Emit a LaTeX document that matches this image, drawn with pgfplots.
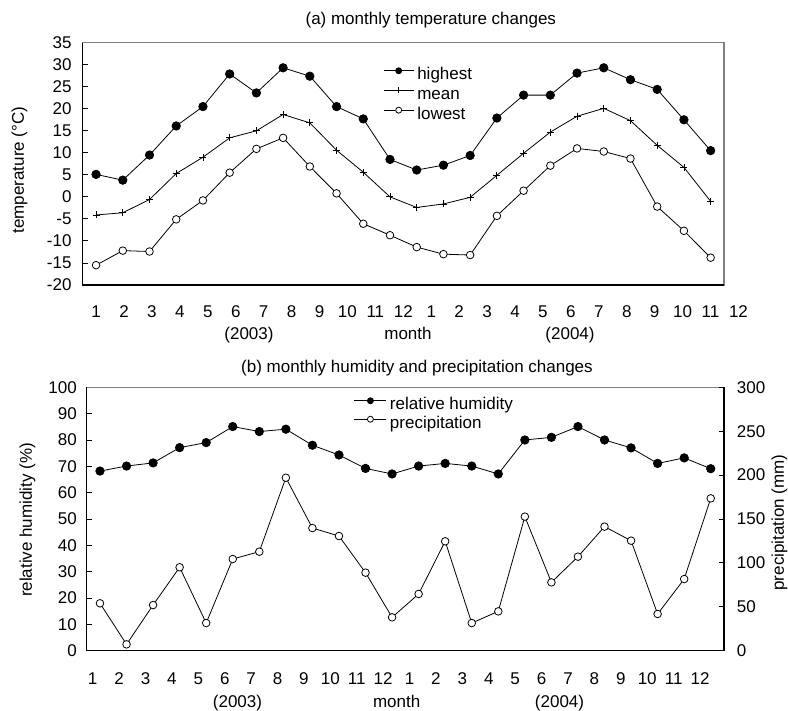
\documentclass[border=0pt]{standalone}
\usepackage{fontspec}
\setmainfont{Liberation Sans}
\usepackage{pgfplots}
\pgfplotsset{compat=1.18}
\usepackage{pgfplotstable}
\definecolor{framegray}{RGB}{128,128,128}

\pgfplotstableread{
m hi mean lo
1 5.1 -4.1 -15.5
2 3.8 -3.6 -12.2
3 9.5 -0.6 -12.4
4 16.1 5.3 -5.1
5 20.5 9.0 -0.8
6 27.9 13.4 5.5
7 23.6 15.0 10.9
8 29.3 18.7 13.4
9 27.4 16.8 6.9
10 20.5 10.6 0.8
11 17.7 5.6 -6.1
12 8.5 0.0 -8.7
13 6.1 -2.4 -11.4
14 7.2 -1.6 -13.0
15 9.4 -0.1 -13.2
16 17.9 4.9 -4.3
17 23.1 9.9 1.4
18 23.1 14.7 7.1
19 28.1 18.3 11.0
20 29.3 20.1 10.3
21 26.6 17.3 8.7
22 24.4 11.7 -2.2
23 17.5 6.7 -7.7
24 10.5 -1.0 -13.8
}\temps

\pgfplotstableread{
m hum pre
1 68.2 54.0
2 70.1 7.2
3 71.3 52.0
4 77.1 95.0
5 79.0 31.5
6 85.1 104.4
7 83.2 112.8
8 84.1 197.0
9 78.0 139.7
10 74.3 130.6
11 69.2 88.9
12 67.1 38.0
13 70.1 64.6
14 71.1 124.6
15 70.1 31.5
16 67.1 44.8
17 80.0 152.7
18 81.0 77.8
19 85.1 107.1
20 80.0 141.3
21 77.0 125.3
22 71.1 41.8
23 73.2 81.6
24 69.1 173.5
}\humid

\pgfplotsset{
  chart/.style={
    scale only axis, clip=false, xmin=0.5, xmax=24.5,
    axis line style={draw=framegray, line width=1.4bp},
    tick style={black, line width=0.9bp},
    major tick length=5bp, minor tick length=5bp, tick align=inside,
    /pgf/number format/assume math mode=true,
    yticklabel style={inner sep=0pt},
    xtick=\empty, minor xtick={1.5,2.5,...,23.5}, xtick pos=lower,
    legend cell align=left,
    legend image post style={mark size=3bp},
  },
  filledc/.style={black, line width=0.8bp, mark=*, mark size=4.2bp, mark options={fill=black, solid}},
  plusm/.style={black, line width=0.8bp, mark=+, mark size=3.5bp, mark options={solid}},
  openc/.style={black, line width=0.8bp, mark=*, mark size=3.8bp, mark options={fill=white, solid}},
}
\newcommand\xlab[3]{\node[anchor=base, inner sep=0pt] at (axis cs:#1,#2) {#3};}

\begin{document}
\fontsize{17bp}{20bp}\selectfont
\begin{tikzpicture}
\path[use as bounding box] (0,0) rectangle (788bp,711bp);

% ---------- (a) temperature ----------
\begin{axis}[chart, at={(82.7bp,426bp)}, anchor=south west,
  width=641.3bp, height=242.3bp,
  ymin=-20, ymax=35, ytick={-20,-15,...,35}, ytick pos=left,
  yticklabel style={xshift=-11bp},
  legend image code/.code={\draw[mark repeat=2, mark phase=2, #1] plot coordinates {(0bp,4.5bp) (15bp,4.5bp) (30bp,4.5bp)};},
  legend style={draw=none, fill=none, at={(0.4684,0.9046)}, anchor=north west,
    inner sep=0pt, row sep=1.2bp, column sep=2bp,
    nodes={inner sep=1.2bp, text height=12.5bp, text depth=3.6bp}},
]
\addplot[filledc] table[x=m, y=hi] {\temps};
\addlegendentry{highest}
\addplot[plusm] table[x=m, y=mean] {\temps};
\addlegendentry{mean}
\addplot[openc] table[x=m, y=lo] {\temps};
\addlegendentry{lowest}
\draw[black, line width=1.4bp] (rel axis cs:0,1) -- (rel axis cs:0,0) -- (rel axis cs:1,0);
\begin{scope}[yshift=-32.5bp]
\xlab{1.000}{-20}{1}\xlab{2.045}{-20}{2}\xlab{3.091}{-20}{3}\xlab{4.136}{-20}{4}
\xlab{5.181}{-20}{5}\xlab{6.227}{-20}{6}\xlab{7.272}{-20}{7}\xlab{8.317}{-20}{8}
\xlab{9.362}{-20}{9}\xlab{10.408}{-20}{10}\xlab{11.453}{-20}{11}\xlab{12.498}{-20}{12}
\xlab{13.544}{-20}{1}\xlab{14.589}{-20}{2}\xlab{15.634}{-20}{3}\xlab{16.680}{-20}{4}
\xlab{17.725}{-20}{5}\xlab{18.770}{-20}{6}\xlab{19.815}{-20}{7}\xlab{20.861}{-20}{8}
\xlab{21.906}{-20}{9}\xlab{22.951}{-20}{10}\xlab{23.997}{-20}{11}\xlab{25.042}{-20}{12}
\end{scope}
\end{axis}

% ---------- (b) humidity / precipitation ----------
\begin{axis}[chart, at={(86.7bp,60.3bp)}, anchor=south west,
  width=637.3bp, height=263.4bp,
  ymin=0, ymax=100, ytick={0,10,...,100}, ytick pos=left,
  yticklabel style={xshift=-9.7bp},
]
\addplot[filledc] table[x=m, y=hum] {\humid};
\draw[black, line width=1.4bp] (rel axis cs:0,1) -- (rel axis cs:0,0) -- (rel axis cs:1,0) -- (rel axis cs:1,1);
\begin{scope}[yshift=-33.6bp]
\xlab{0.726}{0}{1}\xlab{1.720}{0}{2}\xlab{2.715}{0}{3}\xlab{3.709}{0}{4}
\xlab{4.704}{0}{5}\xlab{5.698}{0}{6}\xlab{6.692}{0}{7}\xlab{7.687}{0}{8}
\xlab{8.681}{0}{9}\xlab{9.676}{0}{10}\xlab{10.670}{0}{11}\xlab{11.664}{0}{12}
\xlab{12.659}{0}{1}\xlab{13.653}{0}{2}\xlab{14.648}{0}{3}\xlab{15.642}{0}{4}
\xlab{16.636}{0}{5}\xlab{17.631}{0}{6}\xlab{18.625}{0}{7}\xlab{19.620}{0}{8}
\xlab{20.614}{0}{9}\xlab{21.608}{0}{10}\xlab{22.603}{0}{11}\xlab{23.597}{0}{12}
\end{scope}
\end{axis}

\begin{axis}[chart, at={(86.7bp,60.3bp)}, anchor=south west,
  width=637.3bp, height=263.4bp,
  hide x axis, axis line style={draw=none},
  ymin=0, ymax=300, ytick={0,50,...,300}, ytick pos=right, yticklabel pos=right,
  yticklabel style={xshift=12.7bp},
  legend image code/.code={\draw[mark repeat=2, mark phase=2, #1] plot coordinates {(0bp,4.5bp) (16bp,4.5bp) (32bp,4.5bp)};},
  legend style={draw=none, fill=none, at={(0.4191,0.9677)}, anchor=north west,
    inner sep=0pt, row sep=0bp, column sep=2bp,
    nodes={inner sep=1.2bp, text height=12.5bp, text depth=3.6bp}},
]
\addlegendimage{filledc}
\addlegendentry{relative humidity}
\addplot[openc] table[x=m, y=pre] {\humid};
\addlegendentry{precipitation}
\end{axis}

% ---------- titles and labels ----------
\node[anchor=base] at (430.8bp,686bp) {(a) monthly temperature changes};
\node[anchor=base] at (417bp,338bp) {(b) monthly humidity and precipitation changes};
\node[rotate=90] at (19.5bp,541bp) {temperature (°C)};
\node[rotate=90] at (27.5bp,191bp) {relative humidity (\%)};
\node[rotate=90] at (779.5bp,188.5bp) {precipitation (mm)};
\node[anchor=base] at (249bp,371bp) {(2003)};
\node[anchor=base] at (408bp,371bp) {month};
\node[anchor=base] at (570bp,371bp) {(2004)};
\node[anchor=base] at (237.5bp,4bp) {(2003)};
\node[anchor=base] at (396.7bp,4bp) {month};
\node[anchor=base] at (559.5bp,4bp) {(2004)};
\end{tikzpicture}
\end{document}
